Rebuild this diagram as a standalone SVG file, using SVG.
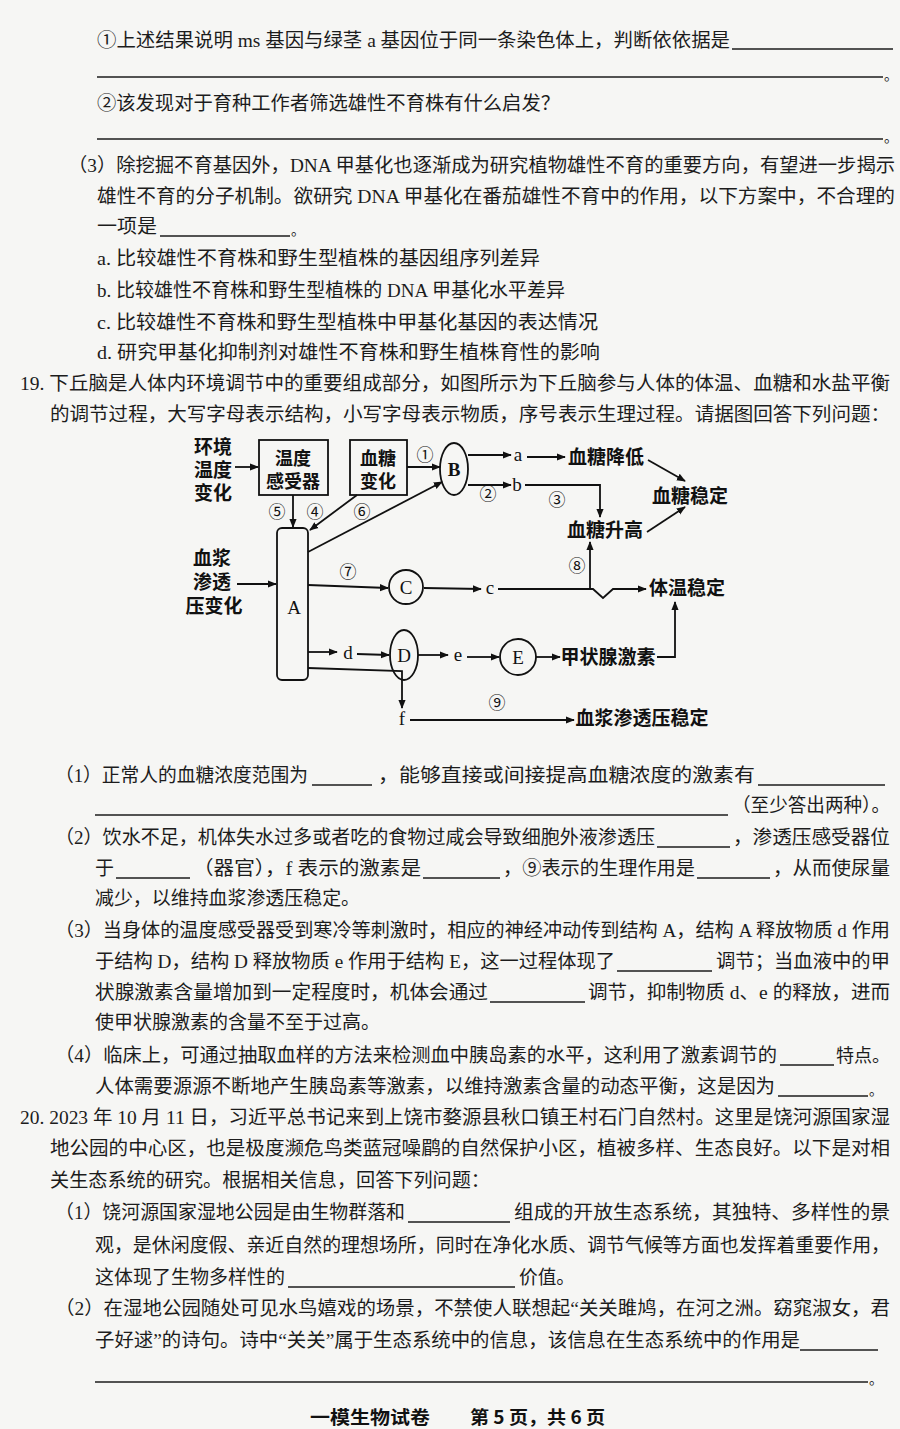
<svg xmlns="http://www.w3.org/2000/svg" width="900" height="1429" viewBox="0 0 900 1429">
<defs>
<style>
.t{font-family:"Liberation Serif","Noto Sans CJK SC",serif;font-size:19px;fill:#1c1c1c}
.b{font-family:"Noto Sans CJK SC",sans-serif;font-size:19px;font-weight:bold;fill:#111;text-anchor:middle}
.bs{font-family:"Noto Sans CJK SC",sans-serif;font-size:18px;font-weight:bold;fill:#111;text-anchor:middle}
.l{font-family:"Liberation Serif","Noto Sans CJK SC",serif;font-size:19px;fill:#111;text-anchor:middle}
.n{font-family:"Noto Sans CJK SC",sans-serif;font-size:17px;fill:#111;text-anchor:middle}
.u{stroke:#1c1c1c;stroke-width:1.6;fill:none}
.s{stroke:#111;stroke-width:1.8;fill:none}
.c{stroke:#111;stroke-width:1.8;fill:none;marker-end:url(#ah)}
.f{font-family:"Noto Sans CJK SC",sans-serif;font-size:18px;font-weight:bold;fill:#111}
</style>
<marker id="ah" viewBox="0 0 10 10" refX="9" refY="5" markerWidth="9" markerHeight="9" markerUnits="userSpaceOnUse" orient="auto">
<path d="M0,1 L10,5 L0,9 z" fill="#111"/>
</marker>
</defs>
<rect width="900" height="1429" fill="#f6f6f4"/>

<g id="text-top">
<text class="t" x="97" y="47" textLength="633" lengthAdjust="spacingAndGlyphs">①上述结果说明 ms 基因与绿茎 a 基因位于同一条染色体上，判断依依据是</text>
<line class="u" x1="732" y1="49" x2="893" y2="49"/>
<line class="u" x1="97" y1="77" x2="883" y2="77"/>
<text class="t" x="884" y="80" style="font-size:14px">。</text>
<text class="t" x="97" y="110" textLength="463" lengthAdjust="spacingAndGlyphs">②该发现对于育种工作者筛选雄性不育株有什么启发？</text>
<line class="u" x1="97" y1="139" x2="883" y2="139"/>
<text class="t" x="884" y="142" style="font-size:14px">。</text>
<text class="t" x="68" y="172" textLength="827" lengthAdjust="spacingAndGlyphs">（3）除挖掘不育基因外，DNA 甲基化也逐渐成为研究植物雄性不育的重要方向，有望进一步揭示</text>
<text class="t" x="97" y="203" textLength="798" lengthAdjust="spacingAndGlyphs">雄性不育的分子机制。欲研究 DNA 甲基化在番茄雄性不育中的作用，以下方案中，不合理的</text>
<text class="t" x="97" y="233" textLength="60" lengthAdjust="spacingAndGlyphs">一项是</text>
<line class="u" x1="160" y1="236" x2="290" y2="236"/>
<text class="t" x="291" y="235" style="font-size:14px">。</text>
<text class="t" x="97" y="265" textLength="443" lengthAdjust="spacingAndGlyphs">a. 比较雄性不育株和野生型植株的基因组序列差异</text>
<text class="t" x="97" y="297" textLength="468" lengthAdjust="spacingAndGlyphs">b. 比较雄性不育株和野生型植株的 DNA 甲基化水平差异</text>
<text class="t" x="97" y="329" textLength="501" lengthAdjust="spacingAndGlyphs">c. 比较雄性不育株和野生型植株中甲基化基因的表达情况</text>
<text class="t" x="97" y="359" textLength="503" lengthAdjust="spacingAndGlyphs">d. 研究甲基化抑制剂对雄性不育株和野生植株育性的影响</text>
<text class="t" x="20" y="390" textLength="870" lengthAdjust="spacingAndGlyphs">19. 下丘脑是人体内环境调节中的重要组成部分，如图所示为下丘脑参与人体的体温、血糖和水盐平衡</text>
<text class="t" x="50" y="421" textLength="840" lengthAdjust="spacingAndGlyphs">的调节过程，大写字母表示结构，小写字母表示物质，序号表示生理过程。请据图回答下列问题：</text>
</g>

<g id="connectors">
<line class="c" x1="235" y1="467" x2="258" y2="467"/>
<line class="c" x1="293" y1="495" x2="293" y2="527"/>
<line class="c" x1="357" y1="495" x2="310" y2="530"/>
<line class="c" x1="308" y1="552" x2="442" y2="482"/>
<line class="c" x1="407" y1="467" x2="440" y2="467"/>
<line class="c" x1="468" y1="455" x2="511" y2="455"/>
<line class="c" x1="527" y1="457" x2="565" y2="457"/>
<line class="c" x1="648" y1="460" x2="685" y2="481"/>
<line class="c" x1="468" y1="485" x2="511" y2="485"/>
<polyline class="c" points="525,485 600,485 600,517"/>
<line class="c" x1="647" y1="532" x2="685" y2="507"/>
<line class="c" x1="237" y1="584" x2="276" y2="584"/>
<line class="c" x1="308" y1="585" x2="388" y2="588"/>
<line class="c" x1="424" y1="588" x2="481" y2="589"/>
<polyline class="c" points="498,589 593,589 603,598 613,589 646,589"/>
<line class="c" x1="590" y1="589" x2="590" y2="542"/>
<polyline class="c" points="657,657 675,657 675,602"/>
<line class="c" x1="308" y1="652" x2="337" y2="652"/>
<line class="c" x1="357" y1="654" x2="389" y2="655"/>
<line class="c" x1="418" y1="655" x2="448" y2="655"/>
<line class="c" x1="467" y1="657" x2="499" y2="657"/>
<line class="c" x1="536" y1="657" x2="560" y2="657"/>
<polyline class="c" points="308,668 402,671 402,708"/>
<line class="c" x1="410" y1="720" x2="574" y2="720"/>
</g>

<g id="node-env">
<text class="b" x="213" y="454">环境</text>
<text class="b" x="213" y="477">温度</text>
<text class="b" x="213" y="500">变化</text>
</g>
<g id="node-temp-receptor">
<rect class="s" x="259" y="440" width="69" height="55"/>
<text class="bs" x="293" y="465">温度</text>
<text class="bs" x="293" y="488">感受器</text>
</g>
<g id="node-glucose-change">
<rect class="s" x="350" y="440" width="57" height="55"/>
<text class="bs" x="378" y="465">血糖</text>
<text class="bs" x="378" y="488">变化</text>
</g>
<g id="node-B">
<ellipse class="s" cx="454" cy="469" rx="14" ry="26"/>
<text class="l" x="454" y="476" style="font-weight:bold">B</text>
</g>
<g id="node-A">
<rect class="s" x="277" y="528" width="31" height="152" rx="5"/>
<text class="l" x="294" y="614">A</text>
</g>
<g id="node-C">
<circle class="s" cx="406" cy="587" r="17"/>
<text class="l" x="406" y="594">C</text>
</g>
<g id="node-D">
<ellipse class="s" cx="404" cy="655" rx="14" ry="25"/>
<text class="l" x="404" y="662">D</text>
</g>
<g id="node-E">
<circle class="s" cx="518" cy="657" r="18"/>
<text class="l" x="518" y="664">E</text>
</g>
<g id="node-plasma">
<text class="b" x="212" y="565">血浆</text>
<text class="b" x="212" y="589">渗透</text>
<text class="b" x="214" y="613">压变化</text>
</g>
<g id="node-glucose-down"><text class="b" x="606" y="464">血糖降低</text></g>
<g id="node-glucose-up"><text class="b" x="605" y="537">血糖升高</text></g>
<g id="node-glucose-stable"><text class="b" x="690" y="503">血糖稳定</text></g>
<g id="node-temp-stable"><text class="b" x="687" y="595">体温稳定</text></g>
<g id="node-thyroxine"><text class="b" x="608" y="664">甲状腺激素</text></g>
<g id="node-plasma-stable"><text class="b" x="642" y="725">血浆渗透压稳定</text></g>

<g id="labels">
<text class="l" x="518" y="461">a</text>
<text class="l" x="517" y="491">b</text>
<text class="l" x="490" y="594">c</text>
<text class="l" x="348" y="659">d</text>
<text class="l" x="458" y="661">e</text>
<text class="l" x="402" y="725">f</text>
<text class="n" x="425" y="461">①</text>
<text class="n" x="488" y="500">②</text>
<text class="n" x="557" y="506">③</text>
<text class="n" x="315" y="518">④</text>
<text class="n" x="277" y="518">⑤</text>
<text class="n" x="362" y="518">⑥</text>
<text class="n" x="348" y="578">⑦</text>
<text class="n" x="577" y="572">⑧</text>
<text class="n" x="497" y="709">⑨</text>
</g>

<g id="text-bottom">
<text class="t" x="55" y="782" textLength="253" lengthAdjust="spacingAndGlyphs">（1）正常人的血糖浓度范围为</text>
<line class="u" x1="312" y1="785" x2="372" y2="785"/>
<text class="t" x="378" y="782" textLength="377" lengthAdjust="spacingAndGlyphs">，能够直接或间接提高血糖浓度的激素有</text>
<line class="u" x1="758" y1="785" x2="885" y2="785"/>
<line class="u" x1="95" y1="815" x2="728" y2="815"/>
<text class="t" x="732" y="812" textLength="158" lengthAdjust="spacingAndGlyphs">（至少答出两种）。</text>
<text class="t" x="55" y="844" textLength="600" lengthAdjust="spacingAndGlyphs">（2）饮水不足，机体失水过多或者吃的食物过咸会导致细胞外液渗透压</text>
<line class="u" x1="657" y1="847" x2="730" y2="847"/>
<text class="t" x="733" y="844" textLength="157" lengthAdjust="spacingAndGlyphs">，渗透压感受器位</text>
<text class="t" x="95" y="875">于</text>
<line class="u" x1="116" y1="878" x2="190" y2="878"/>
<text class="t" x="193" y="875" textLength="228" lengthAdjust="spacingAndGlyphs">（器官），f 表示的激素是</text>
<line class="u" x1="423" y1="878" x2="500" y2="878"/>
<text class="t" x="503" y="875" textLength="192" lengthAdjust="spacingAndGlyphs">，⑨表示的生理作用是</text>
<line class="u" x1="697" y1="878" x2="770" y2="878"/>
<text class="t" x="773" y="875" textLength="117" lengthAdjust="spacingAndGlyphs">，从而使尿量</text>
<text class="t" x="95" y="905" textLength="265" lengthAdjust="spacingAndGlyphs">减少，以维持血浆渗透压稳定。</text>
<text class="t" x="55" y="937" textLength="835" lengthAdjust="spacingAndGlyphs">（3）当身体的温度感受器受到寒冷等刺激时，相应的神经冲动传到结构 A，结构 A 释放物质 d 作用</text>
<text class="t" x="95" y="968" textLength="520" lengthAdjust="spacingAndGlyphs">于结构 D，结构 D 释放物质 e 作用于结构 E，这一过程体现了</text>
<line class="u" x1="617" y1="971" x2="712" y2="971"/>
<text class="t" x="716" y="968" textLength="174" lengthAdjust="spacingAndGlyphs">调节；当血液中的甲</text>
<text class="t" x="95" y="999" textLength="393" lengthAdjust="spacingAndGlyphs">状腺激素含量增加到一定程度时，机体会通过</text>
<line class="u" x1="490" y1="1002" x2="585" y2="1002"/>
<text class="t" x="588" y="999" textLength="302" lengthAdjust="spacingAndGlyphs">调节，抑制物质 d、e 的释放，进而</text>
<text class="t" x="95" y="1029" textLength="285" lengthAdjust="spacingAndGlyphs">使甲状腺激素的含量不至于过高。</text>
<text class="t" x="55" y="1062" textLength="722" lengthAdjust="spacingAndGlyphs">（4）临床上，可通过抽取血样的方法来检测血中胰岛素的水平，这利用了激素调节的</text>
<line class="u" x1="780" y1="1065" x2="834" y2="1065"/>
<text class="t" x="836" y="1062" style="font-size:18px">特点。</text>
<text class="t" x="95" y="1093" textLength="680" lengthAdjust="spacingAndGlyphs">人体需要源源不断地产生胰岛素等激素，以维持激素含量的动态平衡，这是因为</text>
<line class="u" x1="778" y1="1096" x2="868" y2="1096"/>
<text class="t" x="869" y="1095" style="font-size:14px">。</text>
<text class="t" x="20" y="1124" textLength="870" lengthAdjust="spacingAndGlyphs">20. 2023 年 10 月 11 日，习近平总书记来到上饶市婺源县秋口镇王村石门自然村。这里是饶河源国家湿</text>
<text class="t" x="50" y="1155" textLength="840" lengthAdjust="spacingAndGlyphs">地公园的中心区，也是极度濒危鸟类蓝冠噪鹛的自然保护小区，植被多样、生态良好。以下是对相</text>
<text class="t" x="50" y="1187" textLength="440" lengthAdjust="spacingAndGlyphs">关生态系统的研究。根据相关信息，回答下列问题：</text>
<text class="t" x="55" y="1219" textLength="350" lengthAdjust="spacingAndGlyphs">（1）饶河源国家湿地公园是由生物群落和</text>
<line class="u" x1="408" y1="1222" x2="510" y2="1222"/>
<text class="t" x="514" y="1219" textLength="376" lengthAdjust="spacingAndGlyphs">组成的开放生态系统，其独特、多样性的景</text>
<text class="t" x="95" y="1252" textLength="795" lengthAdjust="spacingAndGlyphs">观，是休闲度假、亲近自然的理想场所，同时在净化水质、调节气候等方面也发挥着重要作用，</text>
<text class="t" x="95" y="1284" textLength="190" lengthAdjust="spacingAndGlyphs">这体现了生物多样性的</text>
<line class="u" x1="288" y1="1287" x2="515" y2="1287"/>
<text class="t" x="519" y="1284" textLength="56" lengthAdjust="spacingAndGlyphs">价值。</text>
<text class="t" x="55" y="1315" textLength="835" lengthAdjust="spacingAndGlyphs">（2）在湿地公园随处可见水鸟嬉戏的场景，不禁使人联想起“关关雎鸠，在河之洲。窈窕淑女，君</text>
<text class="t" x="95" y="1347" textLength="705" lengthAdjust="spacingAndGlyphs">子好逑”的诗句。诗中“关关”属于生态系统中的信息，该信息在生态系统中的作用是</text>
<line class="u" x1="800" y1="1350" x2="878" y2="1350"/>
<line class="u" x1="95" y1="1382" x2="868" y2="1382"/>
<text class="t" x="869" y="1384" style="font-size:14px">。</text>
<text class="f" x="310" y="1424" textLength="120" lengthAdjust="spacingAndGlyphs">一模生物试卷</text>
<text class="f" x="470" y="1424" textLength="135" lengthAdjust="spacingAndGlyphs">第 5 页，共 6 页</text>
</g>
</svg>
